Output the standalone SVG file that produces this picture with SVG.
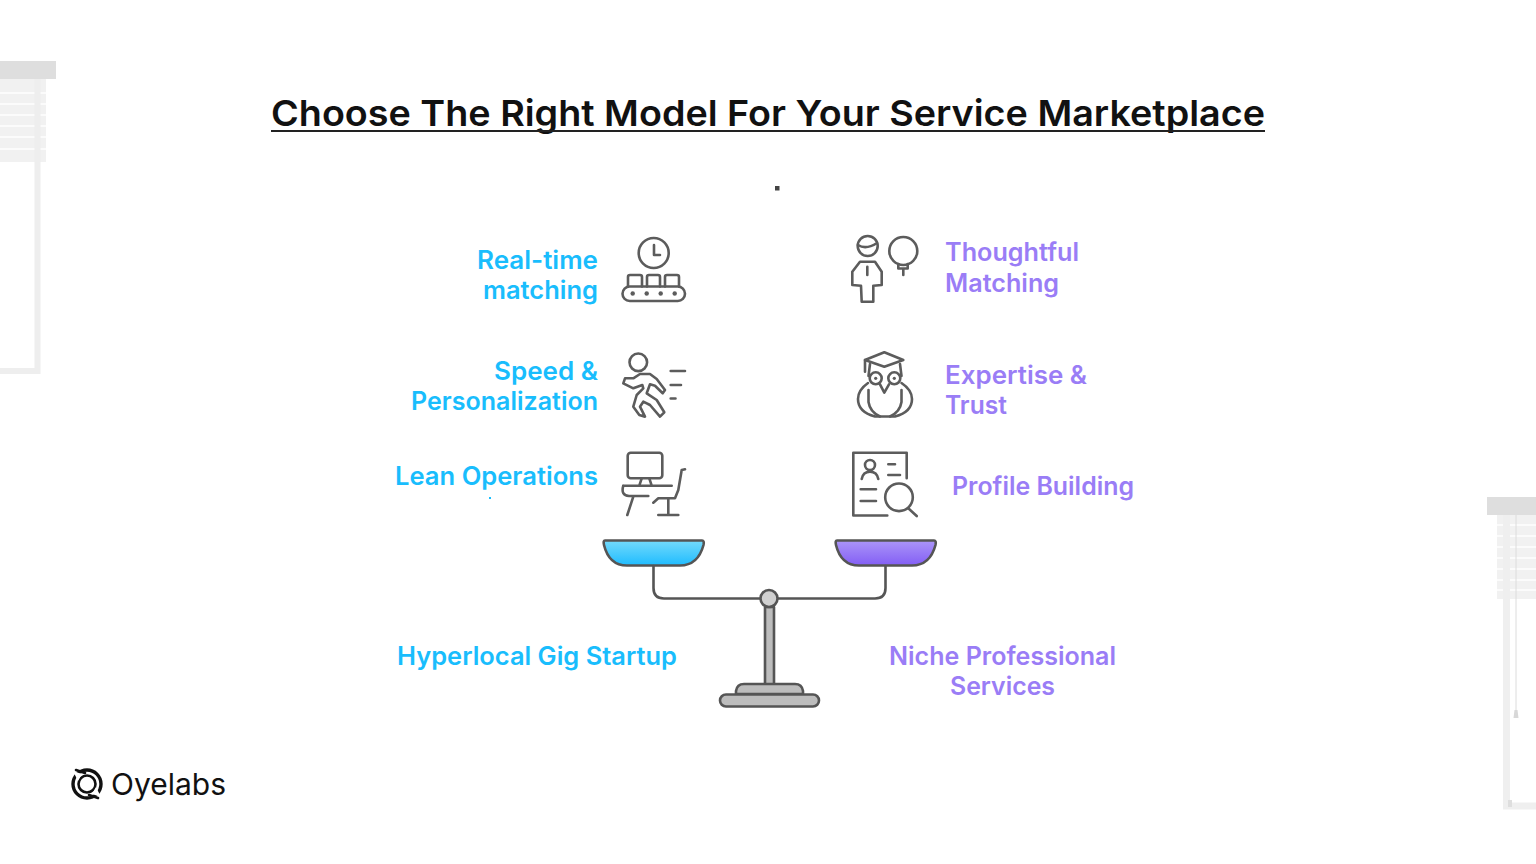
<svg xmlns="http://www.w3.org/2000/svg" width="1536" height="864" viewBox="0 0 1536 864">
<style>
text{font-family:"Inter","Liberation Sans",sans-serif;font-weight:500}
.t{font-size:25px;font-weight:600}
.b{fill:#19bdfd}
.p{fill:#9a7df6}
.i{fill:none;stroke:#5c5c5c;stroke-width:2.6;stroke-linecap:round;stroke-linejoin:round}
.s{fill:none;stroke:#555;stroke-width:2.6;stroke-linecap:round;stroke-linejoin:round}
.g{fill:#bdbdbd;stroke:#555;stroke-width:2.6;stroke-linejoin:round}
</style>
<defs>
<linearGradient id="gb" x1="0" y1="0" x2="0" y2="1"><stop offset="0" stop-color="#74dafb"/><stop offset="1" stop-color="#1fbcff"/></linearGradient>
<linearGradient id="gp" x1="0" y1="0" x2="0" y2="1"><stop offset="0" stop-color="#ab95f8"/><stop offset="1" stop-color="#835ef5"/></linearGradient>
</defs>
<rect width="1536" height="864" fill="#fff"/>
<g id="blind-left">
<rect x="0" y="79" width="46" height="83" fill="#f1f1f1"/>
<path d="M0 93H46M0 104H46M0 115H46M0 126H46M0 137H46M0 149H46" stroke="#fbfbfb" stroke-width="2"/>
<rect x="0" y="61" width="56" height="18" fill="#dedede"/>
<path d="M37.500 79V371H0" fill="none" stroke="#eeeeee" stroke-width="6"/>
</g>
<g id="blind-right">
<rect x="1497" y="515" width="39" height="84" fill="#f1f1f1"/>
<path d="M1497 525H1536M1497 536H1536M1497 547H1536M1497 558H1536M1497 569H1536M1497 580H1536M1497 590H1536" stroke="#fbfbfb" stroke-width="2"/>
<rect x="1487" y="497" width="49" height="18" fill="#dedede"/>
<path d="M1506.500 515V806H1536" fill="none" stroke="#efefef" stroke-width="7"/>
<path d="M1516 515V715" stroke="#dcdcdc" stroke-width="1"/>
<path d="M1513.500 718L1514.500 710H1517.500L1518.500 718Z" fill="#d8d8d8"/>
<rect x="1508" y="800" width="4" height="7" fill="#dedede"/>
</g>
<g id="title">
<text x="271" y="125.500" font-size="36" fill="#111" textLength="994" lengthAdjust="spacingAndGlyphs" style="font-weight:600">Choose The Right Model For Your Service Marketplace</text>
<rect x="271" y="130" width="994" height="2" fill="#222"/>
</g>
<rect id="dot-top" x="775" y="186" width="4.500" height="4.500" fill="#444"/>
<g id="node-realtime">
<text class="t b" x="477" y="268.500" textLength="121" lengthAdjust="spacingAndGlyphs">Real-time</text><text class="t b" x="483" y="299" textLength="115" lengthAdjust="spacingAndGlyphs">matching</text>
<g class="i"><circle cx="653.700" cy="253" r="15"/><path d="M654 245V255H660"/>
<rect x="622.500" y="286.500" width="62.500" height="14.500" rx="7.200"/>
<path d="M628 286.500V277Q628 275 630 275H640Q642 275 642 277V286.500M647 286.500V277Q647 275 649 275H658Q660 275 660 277V286.500M665 286.500V277Q665 275 667 275H677Q679 275 679 277V286.500"/>
</g>
<g fill="#5c5c5c"><circle cx="632.700" cy="293.500" r="2.200"/><circle cx="646.700" cy="293.500" r="2.200"/><circle cx="660.700" cy="293.500" r="2.200"/><circle cx="674.700" cy="293.500" r="2.200"/></g>
</g>
<g id="node-speed">
<text class="t b" x="494" y="379.500" textLength="104" lengthAdjust="spacingAndGlyphs">Speed &amp;</text><text class="t b" x="411" y="410" textLength="187" lengthAdjust="spacingAndGlyphs">Personalization</text>
<g class="i"><circle cx="638.300" cy="362.300" r="8.800"/>
<path d="M625 378.300L633.300 378.300L640 374L650 374L656.700 379L665 390L662.700 393.300L655 385.700L650 384.300L646.700 393.300L656.700 400L664.300 412.300L660 416.700L650 405L643.300 401.700L640 406.700L645 416.700L639.300 415L633.300 406.700L636.700 395L643.300 388.300L642.300 385L633.300 388.300L623.300 383.300Z"/>
<path d="M670.700 371H685M670.700 385H681M670.700 398.500H675.500"/>
</g>
</g>
<g id="node-lean">
<text class="t b" x="395" y="484.500" textLength="203" lengthAdjust="spacingAndGlyphs">Lean Operations</text>
<rect x="489" y="497" width="2" height="2" fill="#19bdfd"/>
<g class="i"><rect x="627.700" y="452.700" width="34.600" height="25.600" rx="3"/>
<path d="M641.700 478.300L639.300 485.700M649.300 478.300L651.700 485.700M623.300 485.700H671.700M623.300 485.700Q620.500 495.500 629 496H648.300M633.300 496.700L627.300 515M685 469.300L681.700 470L678.300 490L675 498.300H658.300L653.300 502.700M668.300 499.300V515M658.300 515H678.300"/></g>
</g>
<g id="node-thoughtful">
<text class="t p" x="945" y="261" textLength="134" lengthAdjust="spacingAndGlyphs">Thoughtful</text><text class="t p" x="945" y="292" textLength="114" lengthAdjust="spacingAndGlyphs">Matching</text>
<g class="i"><circle cx="867.700" cy="246" r="10"/><path d="M858 245Q866 250 877 243"/>
<path d="M860 261.700H875L881.700 271.700V285L873.300 285.700V301.700H861.700L861 285.700L852.300 285V271.700Z"/><path d="M867.300 266.700V275"/>
<circle cx="903.300" cy="251" r="14"/><path d="M898.300 264V268.500H907.700V264M903.300 268.500V275"/></g>
</g>
<g id="node-expertise">
<text class="t p" x="945" y="383.500" textLength="142" lengthAdjust="spacingAndGlyphs">Expertise &amp;</text><text class="t p" x="945" y="414" textLength="62" lengthAdjust="spacingAndGlyphs">Trust</text>
<g class="i"><path d="M865 360L884.300 352.300L903.300 360L884.300 366.700Z"/><path d="M865 360V371.700M870 364L868.500 376M900 364L901.500 376"/>
<circle cx="875.700" cy="378.300" r="6"/><circle cx="894.300" cy="378.300" r="6"/>
<path d="M880 384.300L884.300 392.700L889 384.300"/>
<path d="M868 383Q858 390 858 399Q858 412 875 416.500H895Q912 412 912 399Q912 390 901.500 383"/>
<path d="M868.500 390V402Q870 412 880 416.500M901.500 390V402Q900 412 890 416.500"/>
</g>
<circle cx="875.700" cy="378.300" r="1.600" fill="#5c5c5c"/><circle cx="894.300" cy="378.300" r="1.600" fill="#5c5c5c"/>
</g>
<g id="node-profile">
<text class="t p" x="952" y="494.500" textLength="182" lengthAdjust="spacingAndGlyphs">Profile Building</text>
<g class="i"><path d="M906.700 478.300V452.700H853.300V515.500H887.300"/>
<circle cx="870" cy="465" r="5"/><path d="M861.700 479Q863 471.700 870 471.700Q877 471.700 878.300 479"/>
<path d="M888.300 464.300H895M888.300 475H900M860.700 489.300H876M860.700 501H876"/>
<circle cx="899" cy="497.300" r="13.800"/><path d="M908.300 508.300L916.700 516"/></g>
</g>
<g id="scale">
<path class="g" d="M605 540.500H702Q704.500 540.500 703.500 545Q698 565.500 680 565.500H627Q609 565.500 604 545Q603 540.500 605 540.500Z" style="fill:url(#gb)"/>
<path class="g" d="M837 540.500H934Q936.500 540.500 935.500 545Q930 565.500 912 565.500H859Q841 565.500 836 545Q835 540.500 837 540.500Z" style="fill:url(#gp)"/>
<path class="s" d="M653.500 566V588Q653.500 598.500 664 598.500H875Q885.500 598.500 885.500 588V566"/>
<rect class="g" x="765" y="607" width="9" height="78"/>
<path class="g" d="M736 694V691Q737 684 744 684H795Q802 684 803 691V694Z"/>
<rect class="g" x="720" y="694.500" width="99" height="12" rx="6"/>
<circle class="g" cx="769" cy="598.500" r="8.500" style="fill:#d0d0d0"/>
</g>
<g id="label-left"><text class="t b" x="397" y="664.500" textLength="280" lengthAdjust="spacingAndGlyphs">Hyperlocal Gig Startup</text></g>
<g id="label-right"><text class="t p" x="889" y="664.500" textLength="227" lengthAdjust="spacingAndGlyphs">Niche Professional</text><text class="t p" x="950" y="695" textLength="105" lengthAdjust="spacingAndGlyphs">Services</text></g>
<g id="logo">
<circle cx="87" cy="784" r="14" fill="none" stroke="#111" stroke-width="3.400"/>
<circle cx="87" cy="784" r="8.500" fill="none" stroke="#111" stroke-width="2.600"/>
<path d="M73 771L82 774L78 781ZM101 797L92 794L96 787Z" fill="#fff"/>
<path d="M76 770L85 773M98 798L89 795" stroke="#111" stroke-width="2.600" stroke-linecap="round"/>
<text x="111" y="795" font-size="30" fill="#111" textLength="115" lengthAdjust="spacingAndGlyphs" style="font-weight:400">Oyelabs</text>
</g>
</svg>
